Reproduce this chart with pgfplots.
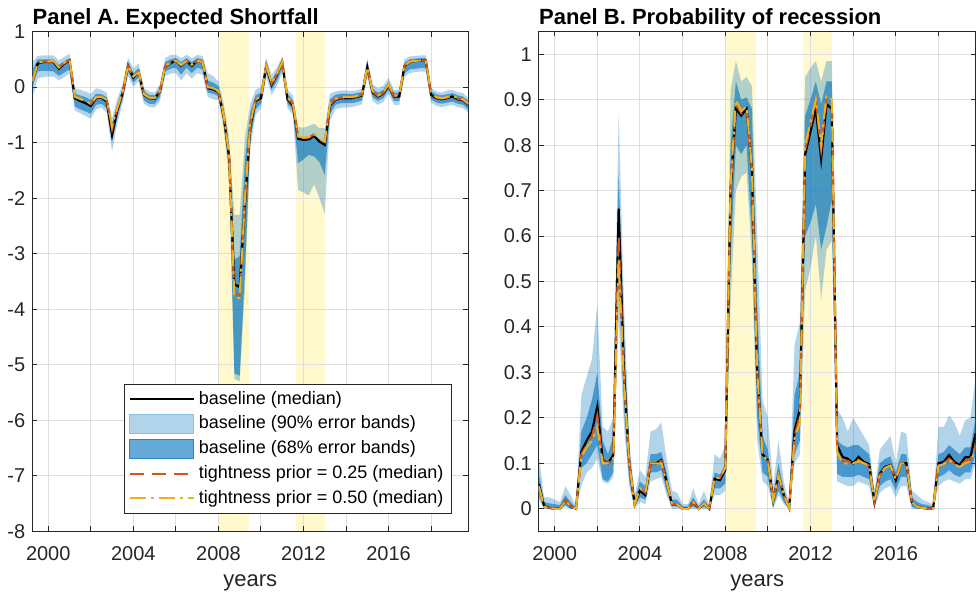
\documentclass[border=0pt]{standalone}
\usepackage{fontspec}
\setmainfont{Liberation Sans}
\usepackage{pgfplots}
\pgfplotsset{compat=1.18}
\usepackage{pgfplotstable}
\usepgfplotslibrary{fillbetween}

\definecolor{matblue}{RGB}{0,114,189}
\definecolor{matorange}{RGB}{217,83,25}
\definecolor{matyellow}{RGB}{237,177,32}
\definecolor{recyellow}{RGB}{255,249,205}
\definecolor{axgray}{RGB}{38,38,38}
\definecolor{band90}{RGB}{178,212,235}
\definecolor{band68}{RGB}{102,170,215}

% Panel A: expected shortfall, quarterly
\pgfplotstableread{
t med u90 u68 l68 l90 t25 t50
1999.25 0.10 0.45 0.30 0.00 -0.20 0.10 0.10
1999.5 0.42 0.56 0.50 0.28 0.15 0.43 0.43
1999.75 0.45 0.57 0.50 0.29 0.18 0.46 0.46
2000 0.45 0.57 0.50 0.29 0.19 0.46 0.46
2000.25 0.45 0.57 0.50 0.28 0.19 0.46 0.47
2000.5 0.33 0.48 0.40 0.20 0.12 0.35 0.35
2000.75 0.42 0.54 0.47 0.26 0.18 0.43 0.44
2001 0.48 0.60 0.52 0.32 0.24 0.49 0.49
2001.25 -0.20 -0.02 -0.12 -0.35 -0.42 -0.18 -0.17
2001.5 -0.25 -0.05 -0.15 -0.40 -0.47 -0.22 -0.21
2001.75 -0.29 -0.08 -0.18 -0.44 -0.52 -0.26 -0.25
2002 -0.34 -0.12 -0.23 -0.48 -0.57 -0.31 -0.30
2002.25 -0.20 -0.02 -0.12 -0.32 -0.40 -0.19 -0.18
2002.5 -0.19 -0.05 -0.13 -0.30 -0.37 -0.18 -0.18
2002.75 -0.26 -0.10 -0.18 -0.38 -0.46 -0.24 -0.23
2003 -0.86 -0.56 -0.66 -0.98 -1.16 -0.76 -0.71
2003.25 -0.41 -0.20 -0.30 -0.55 -0.65 -0.38 -0.37
2003.5 -0.11 0.05 -0.03 -0.20 -0.28 -0.10 -0.09
2003.75 0.38 0.53 0.46 0.28 0.20 0.38 0.38
2004 0.17 0.33 0.25 0.08 0.00 0.18 0.19
2004.25 0.27 0.42 0.34 0.17 0.10 0.27 0.27
2004.5 -0.14 -0.02 -0.08 -0.24 -0.30 -0.13 -0.13
2004.75 -0.20 -0.08 -0.14 -0.30 -0.36 -0.19 -0.19
2005 -0.21 -0.10 -0.15 -0.31 -0.37 -0.20 -0.20
2005.25 -0.08 0.05 -0.02 -0.18 -0.26 -0.07 -0.07
2005.5 0.37 0.52 0.45 0.28 0.20 0.37 0.38
2005.75 0.43 0.58 0.50 0.33 0.24 0.44 0.44
2006 0.48 0.58 0.52 0.35 0.25 0.48 0.48
2006.25 0.38 0.52 0.45 0.22 0.12 0.39 0.40
2006.5 0.47 0.58 0.52 0.35 0.25 0.47 0.47
2006.75 0.38 0.52 0.45 0.25 0.15 0.39 0.40
2007 0.47 0.58 0.52 0.35 0.25 0.47 0.47
2007.25 0.46 0.56 0.50 0.32 0.22 0.46 0.46
2007.5 -0.02 0.25 0.12 -0.10 -0.18 -0.01 0.00
2007.75 -0.04 0.20 0.08 -0.12 -0.22 -0.03 -0.02
2008 -0.09 0.10 0.02 -0.16 -0.24 -0.08 -0.07
2008.25 -0.53 -0.30 -0.40 -0.65 -0.75 -0.52 -0.51
2008.5 -1.25 -0.90 -1.05 -1.45 -1.60 -1.22 -1.20
2008.75 -3.55 -2.30 -3.10 -5.15 -5.25 -3.72 -3.78
2009 -3.60 -2.30 -3.05 -5.20 -5.30 -3.75 -3.80
2009.25 -2.10 -0.90 -1.30 -3.30 -3.60 -2.05 -2.00
2009.5 -0.71 -0.30 -0.45 -0.95 -1.10 -0.68 -0.66
2009.75 -0.25 -0.05 -0.15 -0.40 -0.50 -0.23 -0.22
2010 -0.20 0.00 -0.10 -0.30 -0.38 -0.19 -0.18
2010.25 0.38 0.52 0.45 0.26 0.18 0.39 0.39
2010.5 0.04 0.22 0.12 -0.05 -0.15 0.06 0.07
2010.75 0.22 0.35 0.28 0.10 0.02 0.23 0.23
2011 0.45 0.55 0.50 0.33 0.25 0.45 0.45
2011.25 -0.22 -0.05 -0.12 -0.30 -0.38 -0.20 -0.19
2011.5 -0.33 -0.15 -0.24 -0.42 -0.50 -0.30 -0.29
2011.75 -0.93 -0.72 -0.92 -1.37 -1.85 -0.90 -0.89
2012 -0.95 -0.73 -0.94 -1.30 -1.90 -0.92 -0.91
2012.25 -0.94 -0.70 -0.93 -1.22 -1.95 -0.91 -0.90
2012.5 -0.88 -0.66 -0.87 -1.25 -1.75 -0.85 -0.84
2012.75 -0.98 -0.74 -0.95 -1.35 -2.00 -0.94 -0.93
2013 -1.04 -0.74 -1.00 -1.58 -2.28 -0.99 -0.98
2013.25 -0.33 -0.12 -0.22 -0.48 -0.60 -0.31 -0.30
2013.5 -0.23 -0.08 -0.14 -0.32 -0.40 -0.22 -0.21
2013.75 -0.20 -0.06 -0.12 -0.29 -0.37 -0.19 -0.18
2014 -0.20 -0.06 -0.12 -0.29 -0.37 -0.19 -0.18
2014.25 -0.20 -0.07 -0.13 -0.29 -0.36 -0.19 -0.18
2014.5 -0.18 -0.06 -0.11 -0.27 -0.34 -0.17 -0.16
2014.75 -0.15 -0.03 -0.09 -0.24 -0.31 -0.14 -0.13
2015 0.36 0.52 0.44 0.26 0.18 0.36 0.36
2015.25 -0.10 0.05 -0.03 -0.18 -0.25 -0.09 -0.08
2015.5 -0.17 -0.02 -0.10 -0.25 -0.32 -0.16 -0.15
2015.75 -0.12 0.02 -0.05 -0.20 -0.27 -0.11 -0.10
2016 0.03 0.17 0.10 -0.05 -0.12 0.04 0.05
2016.25 -0.17 -0.05 -0.10 -0.25 -0.32 -0.16 -0.15
2016.5 -0.17 -0.05 -0.10 -0.25 -0.32 -0.16 -0.15
2016.75 0.38 0.50 0.44 0.25 0.18 0.39 0.39
2017 0.45 0.55 0.50 0.32 0.25 0.45 0.46
2017.25 0.47 0.56 0.51 0.33 0.27 0.47 0.47
2017.5 0.48 0.57 0.52 0.34 0.28 0.48 0.48
2017.75 0.48 0.57 0.52 0.34 0.28 0.48 0.48
2018 -0.14 -0.02 -0.08 -0.22 -0.28 -0.13 -0.12
2018.25 -0.20 -0.08 -0.13 -0.28 -0.34 -0.19 -0.18
2018.5 -0.22 -0.10 -0.15 -0.30 -0.36 -0.21 -0.20
2018.75 -0.20 -0.06 -0.13 -0.28 -0.34 -0.19 -0.18
2019 -0.17 -0.05 -0.11 -0.26 -0.32 -0.16 -0.15
2019.25 -0.22 -0.09 -0.15 -0.30 -0.36 -0.21 -0.20
2019.5 -0.24 -0.11 -0.17 -0.32 -0.38 -0.23 -0.22
2019.75 -0.32 -0.20 -0.25 -0.40 -0.46 -0.31 -0.30
}\esdata

% Panel B: probability of recession, quarterly
\pgfplotstableread{
t med u90 u68 l68 l90 t25 t50
1999.25 0.055 0.12 0.08 0.03 0.02 0.05 0.05
1999.5 0.007 0.025 0.015 0.002 0.0 0.006 0.005
1999.75 0.002 0.025 0.012 0.0 0.0 0.002 0.002
2000 0.0 0.02 0.01 0.0 0.0 0.0 0.0
2000.25 0.0 0.015 0.008 0.0 0.0 0.0 0.0
2000.5 0.018 0.05 0.03 0.008 0.004 0.018 0.018
2000.75 0.005 0.03 0.015 0.0 0.0 0.005 0.005
2001 0.0 0.005 0.002 0.0 0.0 0.0 0.0
2001.25 0.125 0.25 0.17 0.09 0.05 0.12 0.115
2001.5 0.15 0.29 0.20 0.10 0.08 0.14 0.135
2001.75 0.17 0.33 0.24 0.12 0.09 0.16 0.15
2002 0.225 0.45 0.30 0.14 0.11 0.205 0.18
2002.25 0.107 0.18 0.15 0.065 0.06 0.105 0.10
2002.5 0.10 0.17 0.12 0.06 0.055 0.10 0.10
2002.75 0.118 0.20 0.16 0.08 0.07 0.115 0.11
2003 0.66 0.87 0.74 0.50 0.42 0.60 0.55
2003.25 0.30 0.45 0.38 0.22 0.18 0.29 0.28
2003.5 0.10 0.15 0.12 0.06 0.05 0.10 0.10
2003.75 0.01 0.03 0.02 0.005 0.0 0.01 0.01
2004 0.04 0.085 0.06 0.025 0.015 0.045 0.045
2004.25 0.03 0.07 0.05 0.02 0.01 0.035 0.035
2004.5 0.10 0.17 0.12 0.08 0.06 0.10 0.10
2004.75 0.10 0.175 0.12 0.08 0.065 0.10 0.10
2005 0.107 0.19 0.125 0.085 0.07 0.105 0.10
2005.25 0.06 0.11 0.08 0.04 0.03 0.06 0.06
2005.5 0.01 0.04 0.02 0.005 0.0 0.01 0.01
2005.75 0.01 0.035 0.02 0.005 0.0 0.01 0.01
2006 0.0 0.01 0.005 0.0 0.0 0.0 0.0
2006.25 0.0 0.01 0.005 0.0 0.0 0.0 0.0
2006.5 0.015 0.045 0.025 0.005 0.0 0.015 0.015
2006.75 0.0 0.01 0.005 0.0 0.0 0.0 0.0
2007 0.012 0.04 0.02 0.004 0.0 0.012 0.012
2007.25 0.0 0.01 0.005 0.0 0.0 0.0 0.0
2007.5 0.066 0.12 0.08 0.045 0.03 0.068 0.068
2007.75 0.063 0.11 0.075 0.045 0.03 0.068 0.068
2008 0.085 0.14 0.10 0.055 0.04 0.09 0.09
2008.25 0.70 0.92 0.80 0.55 0.45 0.70 0.71
2008.5 0.88 0.985 0.94 0.80 0.70 0.89 0.90
2008.75 0.865 0.94 0.90 0.78 0.73 0.87 0.875
2009 0.88 0.95 0.905 0.80 0.74 0.88 0.885
2009.25 0.75 0.93 0.88 0.60 0.55 0.75 0.75
2009.5 0.30 0.60 0.45 0.20 0.15 0.30 0.30
2009.75 0.12 0.24 0.16 0.08 0.06 0.12 0.12
2010 0.107 0.20 0.13 0.07 0.05 0.105 0.105
2010.25 0.018 0.05 0.03 0.005 0.0 0.018 0.018
2010.5 0.074 0.15 0.10 0.04 0.03 0.074 0.074
2010.75 0.03 0.06 0.04 0.015 0.01 0.03 0.03
2011 0.002 0.01 0.005 0.0 0.0 0.002 0.002
2011.25 0.17 0.36 0.25 0.12 0.10 0.16 0.155
2011.5 0.22 0.41 0.30 0.15 0.12 0.205 0.19
2011.75 0.78 0.95 0.865 0.60 0.48 0.79 0.80
2012 0.83 0.97 0.90 0.63 0.53 0.84 0.85
2012.25 0.88 0.985 0.94 0.67 0.60 0.895 0.90
2012.5 0.77 0.94 0.89 0.57 0.46 0.79 0.80
2012.75 0.89 0.985 0.94 0.62 0.57 0.90 0.91
2013 0.88 0.985 0.94 0.68 0.59 0.895 0.90
2013.25 0.14 0.22 0.15 0.077 0.06 0.13 0.125
2013.5 0.114 0.20 0.14 0.07 0.055 0.105 0.10
2013.75 0.11 0.17 0.135 0.07 0.05 0.105 0.10
2014 0.10 0.20 0.14 0.07 0.05 0.10 0.10
2014.25 0.114 0.18 0.14 0.075 0.06 0.108 0.105
2014.5 0.103 0.16 0.13 0.07 0.055 0.10 0.10
2014.75 0.098 0.14 0.12 0.065 0.05 0.095 0.095
2015 0.015 0.04 0.03 0.005 0.0 0.015 0.015
2015.25 0.077 0.13 0.10 0.05 0.035 0.075 0.075
2015.5 0.092 0.145 0.11 0.06 0.045 0.09 0.09
2015.75 0.096 0.16 0.115 0.065 0.05 0.095 0.095
2016 0.063 0.10 0.08 0.04 0.025 0.065 0.065
2016.25 0.10 0.17 0.12 0.07 0.05 0.10 0.10
2016.5 0.10 0.165 0.12 0.07 0.05 0.10 0.10
2016.75 0.015 0.04 0.025 0.005 0.0 0.015 0.015
2017 0.004 0.03 0.015 0.0 0.0 0.004 0.004
2017.25 0.002 0.02 0.01 0.0 0.0 0.002 0.002
2017.5 0.0 0.015 0.008 0.0 0.0 0.0 0.0
2017.75 0.0 0.01 0.005 0.0 0.0 0.0 0.0
2018 0.10 0.18 0.12 0.07 0.05 0.098 0.095
2018.25 0.103 0.18 0.125 0.075 0.06 0.10 0.098
2018.5 0.118 0.205 0.14 0.085 0.065 0.11 0.108
2018.75 0.103 0.19 0.13 0.075 0.06 0.10 0.098
2019 0.096 0.16 0.12 0.07 0.055 0.094 0.092
2019.25 0.113 0.195 0.135 0.08 0.065 0.105 0.10
2019.5 0.114 0.20 0.135 0.08 0.065 0.108 0.104
2019.75 0.166 0.29 0.20 0.12 0.10 0.14 0.13
}\prdata

\pgfplotsset{
  panel/.style={
    scale only axis, height=250pt,
    xmin=1999.25, xmax=2019.75,
    xtick={2000,2002,...,2018},
    xticklabels={2000,,2004,,2008,,2012,,2016,},
    grid=major, major grid style={draw=black!13, line width=0.5pt},
    tick align=inside, major tick length=2.5pt,
    axis line style={draw=axgray, line width=0.6pt},
    every tick/.style={draw=axgray, line width=0.5pt},
    tick label style={font=\fontsize{10}{12}\selectfont, text=axgray},
    /pgf/number format/assume math mode=true,
    xticklabel style={yshift=-4pt},
    xlabel={years},
    xlabel style={font=\fontsize{11}{13}\selectfont, text=axgray,
      at={(axis description cs:0.5,0)}, anchor=base, yshift=-27.75pt},
    every axis title/.style={font=\bfseries\fontsize{11}{13}\selectfont,
      at={(axis description cs:0,1)}, anchor=base west, inner sep=0pt, yshift=3.35pt},
    set layers,
  },
  rec/.style={draw=none, fill=recyellow, on layer=axis background, forget plot},
  bnd/.style={draw=none, forget plot},
  med/.style={black, line width=1.1pt, forget plot},
  tp25/.style={matorange, line width=1pt, dash pattern=on 7pt off 4pt, forget plot},
  tp50/.style={matyellow, line width=1pt, dash pattern=on 8pt off 2.5pt on 1.5pt off 2.5pt, forget plot},
  linelegend/.style={legend image code/.code={\draw[##1] (0pt,0pt) -- (32pt,0pt);}},
  arealegend/.style={legend image code/.code={\draw[##1] (0pt,-4.7pt) rectangle (32pt,4.7pt);}},
}

\begin{document}
\begin{tikzpicture}
\begin{axis}[panel, width=218pt,
    ymin=-8, ymax=1, ytick={-8,-7,...,1},
    title={Panel A. Expected Shortfall},
    legend style={at={(0.9626,0.035)}, anchor=south east,
      font=\fontsize{9}{10.5}\selectfont, draw=axgray, line width=0.5pt,
      fill=white, inner xsep=2pt, inner ysep=1.5pt, row sep=0.4pt},
    legend cell align=left]
\addplot[rec] coordinates {(2008,-8) (2009.42,-8) (2009.42,1) (2008,1)} -- cycle;
\addplot[rec] coordinates {(2011.66,-8) (2013,-8) (2013,1) (2011.66,1)} -- cycle;
\addplot[bnd, name path=au90] table[x=t, y=u90]{\esdata};
\addplot[bnd, name path=al90] table[x=t, y=l90]{\esdata};
\addplot[bnd, name path=au68] table[x=t, y=u68]{\esdata};
\addplot[bnd, name path=al68] table[x=t, y=l68]{\esdata};
\addplot[fill=matblue, fill opacity=0.3, draw=none, forget plot] fill between[of=au90 and al90];
\addplot[fill=matblue, fill opacity=0.6, draw=none, forget plot] fill between[of=au68 and al68];
\addplot[med] table[x=t, y=med]{\esdata};
\addplot[tp25] table[x=t, y=t25]{\esdata};
\addplot[tp50] table[x=t, y=t50]{\esdata};
\addlegendimage{linelegend, black, line width=1.1pt}
\addlegendentry{baseline (median)}
\addlegendimage{arealegend, fill=band90, draw=matblue!45, line width=0.5pt}
\addlegendentry{baseline (90\% error bands)}
\addlegendimage{arealegend, fill=band68, draw=matblue!85, line width=0.5pt}
\addlegendentry{baseline (68\% error bands)}
\addlegendimage{linelegend, matorange, line width=1pt, dash pattern=on 7pt off 4pt}
\addlegendentry{tightness prior = 0.25 (median)}
\addlegendimage{linelegend, matyellow, line width=1pt, dash pattern=on 8pt off 2.5pt on 1.5pt off 2.5pt}
\addlegendentry{tightness prior = 0.50 (median)}
\end{axis}

\begin{axis}[panel, width=218.5pt, at={(253.2pt,0pt)},
    ymin=-0.05, ymax=1.05,
    ytick={0,0.1,0.2,0.3,0.4,0.5,0.6,0.7,0.8,0.9,1},
    title={Panel B. Probability of recession}]
\addplot[rec] coordinates {(2008,-0.05) (2009.42,-0.05) (2009.42,1.05) (2008,1.05)} -- cycle;
\addplot[rec] coordinates {(2011.66,-0.05) (2013,-0.05) (2013,1.05) (2011.66,1.05)} -- cycle;
\addplot[bnd, name path=bu90] table[x=t, y=u90]{\prdata};
\addplot[bnd, name path=bl90] table[x=t, y=l90]{\prdata};
\addplot[bnd, name path=bu68] table[x=t, y=u68]{\prdata};
\addplot[bnd, name path=bl68] table[x=t, y=l68]{\prdata};
\addplot[fill=matblue, fill opacity=0.3, draw=none, forget plot] fill between[of=bu90 and bl90];
\addplot[fill=matblue, fill opacity=0.6, draw=none, forget plot] fill between[of=bu68 and bl68];
\addplot[med] table[x=t, y=med]{\prdata};
\addplot[tp25] table[x=t, y=t25]{\prdata};
\addplot[tp50] table[x=t, y=t50]{\prdata};
\end{axis}
\pgfresetboundingbox
\path[use as bounding box] (-16.15pt,-30.75pt) rectangle (473.85pt,265.75pt);
\end{tikzpicture}
\end{document}
